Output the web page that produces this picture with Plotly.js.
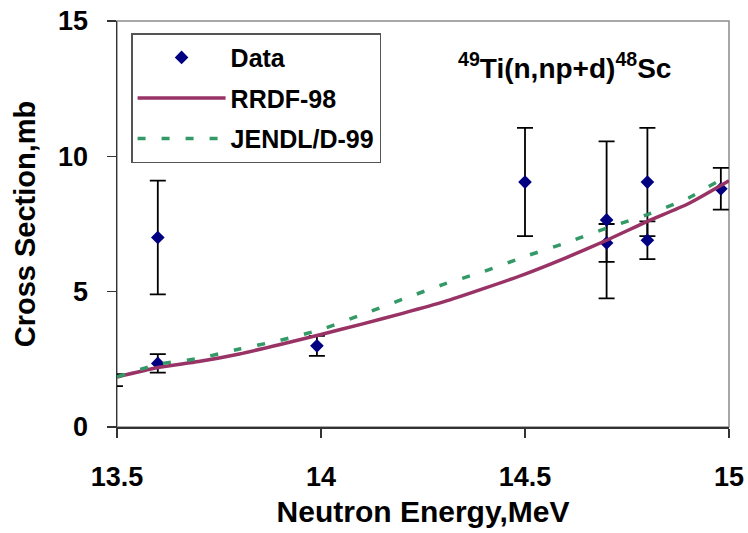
<!DOCTYPE html>
<html>
<head>
<meta charset="utf-8">
<script src="https://cdn.plot.ly/plotly-3.0.1.min.js"></script>
<style>html,body{margin:0;padding:0;background:#fff;}#chart{width:748px;height:533px;}</style>
</head>
<body>
<div id="chart"></div>
<script>
// Measured data (Neutron energy in MeV, cross section in mb)
const dataX   = [13.6, 13.6, 13.99, 14.5, 14.7, 14.7, 14.8, 14.8, 14.98];
const dataY   = [7.0, 2.35, 3.0, 9.05, 7.65, 6.8, 9.05, 6.9, 8.8];
const dataErr = [2.1, 0.34, 0.37, 2.0, 2.9, 0.7, 2.0, 0.7, 0.77];

// Point just left of the axis: only its error bar is visible
const edgeX   = [13.495];
const edgeY   = [1.73];
const edgeErr = [0.22];

// Evaluated curves
const energies = [13.5, 13.6, 13.7, 13.8, 13.9, 14.0, 14.1, 14.2, 14.3, 14.4, 14.5, 14.6, 14.7, 14.8, 14.9, 15.0];
const rrdf98   = [1.85, 2.2, 2.42, 2.7, 3.05, 3.42, 3.8, 4.2, 4.62, 5.12, 5.65, 6.25, 6.9, 7.6, 8.25, 9.1];
const jendl99  = [1.85, 2.32, 2.53, 2.88, 3.2, 3.6, 4.15, 4.72, 5.27, 5.75, 6.3, 6.8, 7.35, 7.85, 8.45, 9.32];

const xTicks = [13.5, 14, 14.5, 15];
const yTicks = [0, 5, 10, 15];

const FONT = "Liberation Sans, Arial, sans-serif";

const traces = [
  {
    x: dataX, y: dataY, type: 'scatter', mode: 'markers', name: 'Data',
    legendgroup: 'a', cliponaxis: false,
    marker: {symbol: 'diamond', size: 10.5, color: '#000080'},
    error_y: {type: 'data', array: dataErr, visible: true, color: '#000000', thickness: 1.8, width: 8}
  },
  {
    x: edgeX, y: edgeY, type: 'scatter', mode: 'markers', showlegend: false,
    cliponaxis: false, hoverinfo: 'skip',
    marker: {symbol: 'diamond', size: 10.5, color: '#000080', opacity: 0},
    error_y: {type: 'data', array: edgeErr, visible: true, color: '#000000', thickness: 1.8, width: 8}
  },
  {
    x: energies, y: rrdf98, type: 'scatter', mode: 'lines', name: 'RRDF-98',
    legendgroup: 'b',
    line: {color: '#993366', width: 3.5, shape: 'spline', smoothing: 0.6}
  },
  {
    x: energies, y: jendl99, type: 'scatter', mode: 'lines', name: 'JENDL/D-99',
    legendgroup: 'c',
    line: {color: '#339966', width: 3.5, dash: '8px,16px', shape: 'spline', smoothing: 0.4}
  }
];

const layout = {
  width: 748, height: 533,
  margin: {l: 117, r: 19, t: 21, b: 106},
  paper_bgcolor: '#ffffff', plot_bgcolor: '#ffffff',
  font: {family: FONT, color: '#000000', weight: 700},
  showlegend: true,
  legend: {
    x: 0.023, y: 0.97, xanchor: 'left', yanchor: 'top',
    bgcolor: '#ffffff', bordercolor: '#555555', borderwidth: 1.5,
    font: {family: FONT, size: 25, color: '#000000', weight: 700},
    traceorder: 'grouped', tracegroupgap: 5, itemwidth: 88
  },
  xaxis: {
    range: [13.5, 15], tickvals: xTicks, ticktext: xTicks.map(String),
    showgrid: false, zeroline: false,
    showline: true, linecolor: '#333333', linewidth: 1.5,
    ticks: 'outside', ticklen: 9, tickwidth: 1.2, tickcolor: '#333333',
    tickfont: {family: FONT, size: 27, color: '#000000', weight: 700},
    ticklabelstandoff: 16,
    title: {text: 'Neutron Energy,MeV', standoff: 10, font: {family: FONT, size: 30, color: '#000000', weight: 700}}
  },
  yaxis: {
    range: [0, 15], tickvals: yTicks, ticktext: yTicks.map(String),
    showgrid: false, zeroline: false,
    showline: true, linecolor: '#333333', linewidth: 1.5,
    ticks: 'outside', ticklen: 9, tickwidth: 1.2, tickcolor: '#333333',
    tickfont: {family: FONT, size: 27, color: '#000000', weight: 700},
    ticklabelstandoff: 13,
    title: {text: 'Cross Section,mb', standoff: 14, font: {family: FONT, size: 29, color: '#000000', weight: 700}}
  },
  shapes: [
    {type: 'rect', xref: 'paper', yref: 'paper', x0: 0, x1: 1, y0: 0, y1: 1,
     line: {color: '#8c8c8c', width: 1.5}, layer: 'below'}
  ],
  annotations: [
    {xref: 'paper', yref: 'paper', x: 0.732, y: 0.89, xanchor: 'center', yanchor: 'middle',
     showarrow: false, text: '<sup>49</sup>Ti(n,np+d)<sup>48</sup>Sc',
     font: {family: FONT, size: 28, color: '#000000', weight: 700}}
  ]
};

Plotly.newPlot('chart', traces, layout, {displayModeBar: false, staticPlot: true});
</script>
</body>
</html>
